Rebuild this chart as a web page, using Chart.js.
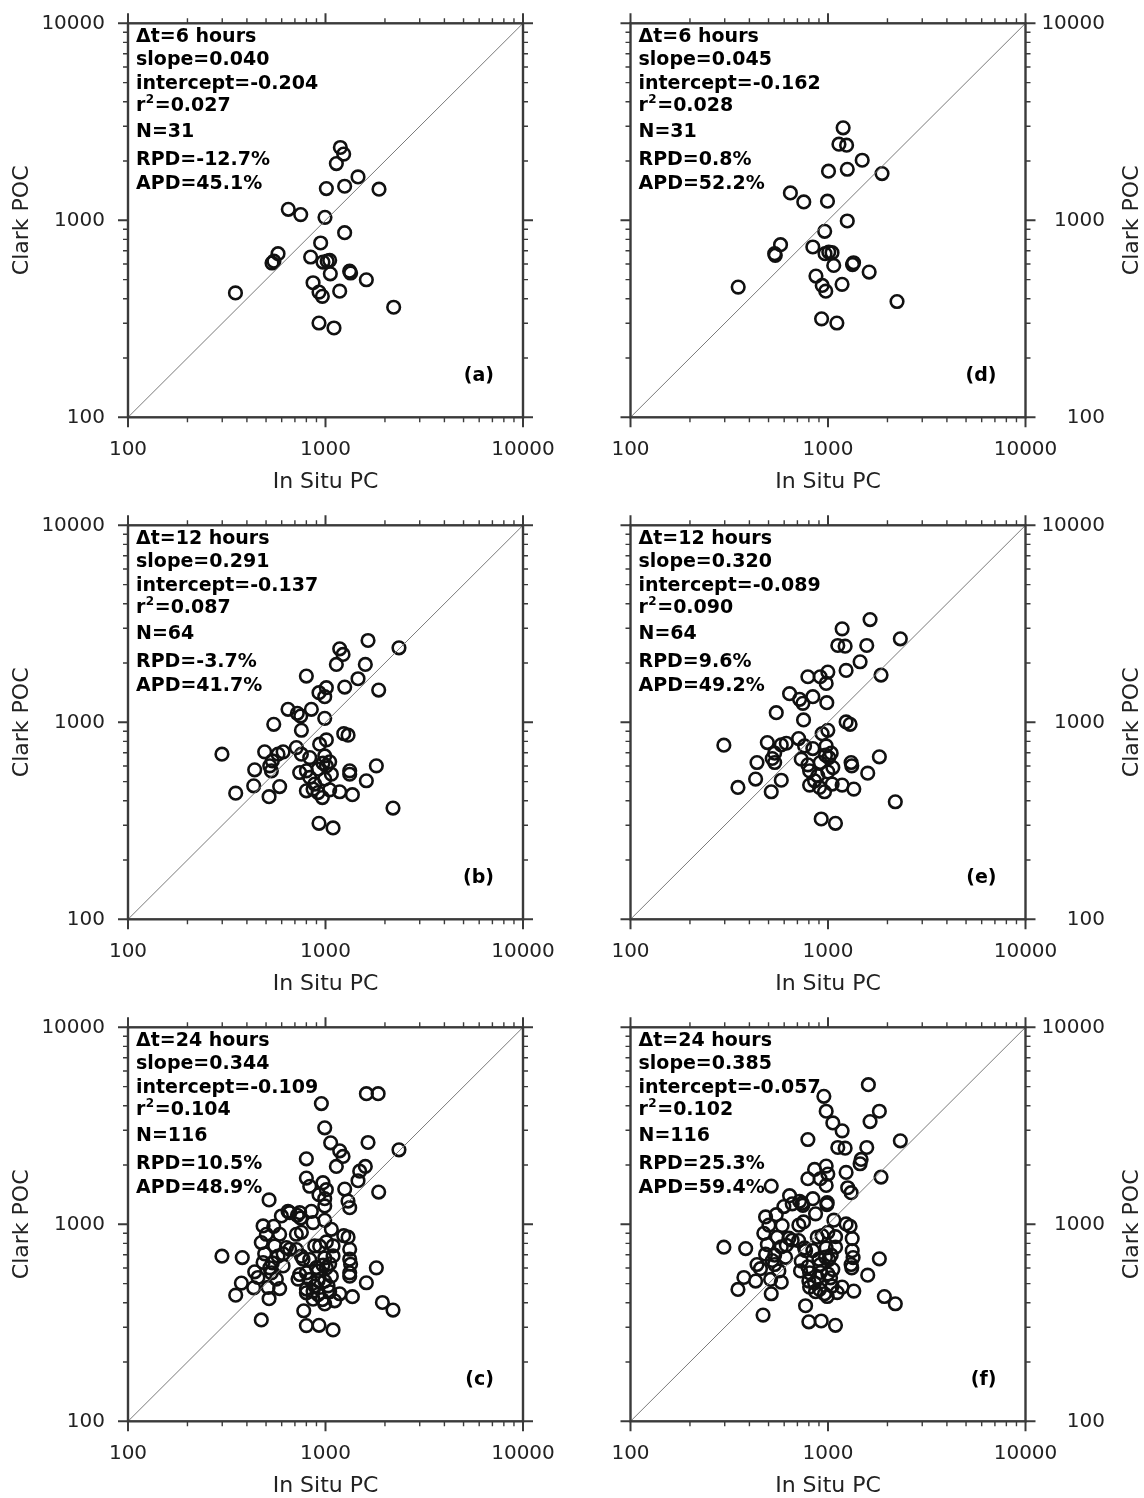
<!DOCTYPE html>
<html>
<head>
<meta charset="utf-8">
<title>Clark POC vs In Situ PC</title>
<script src="https://cdn.jsdelivr.net/npm/chart.js@4.4.1/dist/chart.umd.min.js"></script>
<style>
  html, body { margin: 0; padding: 0; background: #fff; }
  #page { position: relative; width: 1144px; height: 1498px; overflow: hidden; background: #fff; }
  #page canvas { position: absolute; }
</style>
</head>
<body>
<div id="page"></div>
<script>
// Data (values in the axis units)
// Left column (a-c), right column (d-f); c = b + cExtra, f = e + fExtra

const aInSitu = [1189,1236,1135,1461,1010,1250,1866,648,749,994,1250,945,575,536,841,971,1050,1058,1325,1340,1610,865,927,964,1180,350,2214,927,1104,1020,548];
const aClark  = [2342,2168,1941,1661,1449,1489,1438,1137,1069,1035,865,767,677,607,651,614,626,535,552,540,499,482,432,411,437,428,362,301,284,620,620];

const dInSitu = [1193,1136,1242,1490,1006,1252,1877,645,754,994,1252,962,575,541,838,966,1048,1069,1347,1331,1616,869,935,974,1178,351,2236,928,1109,1009,537];
const dClark  = [2948,2434,2406,2018,1775,1816,1727,1377,1239,1250,992,879,752,664,732,677,685,590,609,596,546,521,467,437,473,458,387,316,301,690,677];

const bInSitu = [1642,2355,1180,1227,1135,1591,800,1461,1251,1859,1010,927,991,646,848,720,749,991,547,755,1237,1301,1010,934,299,492,610,575,712,755,832,991,1050,971,538,522,532,438,1809,800,917,1071,1326,1326,832,991,1610,433,586,882,351,518,800,917,1050,1180,1368,964,2197,927,1092,865,740,1010];
const bClark  = [2602,2388,2360,2210,1966,1966,1717,1664,1510,1458,1498,1413,1349,1164,1164,1111,1076,1047,977,911,876,860,814,774,689,708,708,689,744,689,662,675,630,620,637,601,567,574,601,567,578,545,567,545,525,515,505,476,472,486,437,419,449,440,454,444,429,415,367,307,291,458,556,601];

const eInSitu = [1633,1179,2324,1121,1221,1571,1454,1235,1856,791,998,913,979,639,838,718,746,986,547,752,1235,1294,998,934,297,493,615,580,710,761,838,979,1038,971,537,522,537,437,1820,791,913,1058,1309,1319,807,998,1589,430,580,888,350,516,807,906,1050,1179,1351,960,2192,924,1091,855,732,1010];
const eClark  = [3323,2981,2653,2454,2435,2454,2029,1834,1737,1703,1799,1703,1576,1397,1349,1308,1248,1258,1119,1028,1004,977,911,876,765,789,783,768,827,759,736,759,697,681,697,655,625,625,668,608,625,589,625,601,567,560,552,515,508,535,467,444,480,467,486,480,458,444,395,323,307,505,650,662];

const cExtraInSitu = [1611,1847,953,991,1062,800,1490,518,1300,1326,832,971,991,379,473,800,776,1941,1340,1326,375,483,598,659,502,586,473,553,634,483,610,564,455,512,740,865,712,882,1092,770,899,1092,726,917,865,991,1113,800,1030,1071,659,1326];
const cExtraClark  = [4603,4603,4100,3088,2593,2150,1860,1330,1312,1215,1560,1626,1240,678,327,306,364,401,627,747,503,981,1102,1146,890,890,808,777,762,640,615,527,537,478,1146,1020,890,777,777,665,603,691,527,517,417,394,409,469,487,943,747,665];

const fExtraInSitu = [1601,1820,953,979,1058,791,1471,516,1258,1309,855,979,991,383,469,800,770,1929,1340,1326,375,483,598,659,502,586,473,553,634,483,610,564,455,512,740,865,712,882,1092,770,899,1092,726,917,865,991,1113,800,1030,1071,659,1326];
const fExtraClark  = [5114,3749,4465,3749,3272,2694,2134,1564,1533,1447,1899,1974,1287,753,346,320,386,430,678,846,537,1090,1230,1270,990,985,900,860,850,705,680,580,595,525,1280,1130,990,860,865,735,665,765,580,570,455,430,450,515,535,1050,830,735];

// Panel statistics, order a, b, c, d, e, f
const panelTags  = ['(a)', '(b)', '(c)', '(d)', '(e)', '(f)'];
const dtHours    = [6, 12, 24, 6, 12, 24];
const slopes     = ['0.040', '0.291', '0.344', '0.045', '0.320', '0.385'];
const intercepts = ['-0.204', '-0.137', '-0.109', '-0.162', '-0.089', '-0.057'];
const r2s        = ['0.027', '0.087', '0.104', '0.028', '0.090', '0.102'];
const counts     = [31, 64, 116, 31, 64, 116];
const rpds       = ['-12.7', '-3.7', '10.5', '0.8', '9.6', '25.3'];
const apds       = ['45.1', '41.7', '48.9', '52.2', '49.2', '59.4'];

// Axis ticks
const axisMin = 100, axisMax = 10000;
const majorTicks = [100, 1000, 10000];
const minorTicks = [200, 300, 400, 500, 600, 700, 800, 900, 2000, 3000, 4000, 5000, 6000, 7000, 8000, 9000];
const xTitle = 'In Situ PC';
const yTitle = 'Clark POC';

// Helpers
function zipPoints(xs, ys) {
    return xs.map((x, i) => ({ x: x, y: ys[i] }));
}

const panelSeries = [
    { x: aInSitu, y: aClark },
    { x: bInSitu, y: bClark },
    { x: bInSitu.concat(cExtraInSitu), y: bClark.concat(cExtraClark) },
    { x: dInSitu, y: dClark },
    { x: eInSitu, y: eClark },
    { x: eInSitu.concat(fExtraInSitu), y: eClark.concat(fExtraClark) },
];

const W = 572, H = 502;
const PLOT_TOP = 23.3, PLOT_H = 394, PLOT_W = 395;
const LEFT_AXIS_W = 128;          // left column: plot starts at x=128
const RIGHT_PLOT_LEFT = 58.5;     // right column: plot starts at 572+58.5
const RIGHT_AXIS_W = 79.5;        // right labels end at x=1105
const FONT = '"DejaVu Sans", "Liberation Sans", sans-serif';

// GMT style frame, outward ticks, axis titles and the stats block
const gmtFrame = {
    id: 'gmtFrame',
    afterDraw(chart, args, opts) {
        const { ctx, chartArea: ca, scales } = chart;
        const sx = scales.x, sy = scales.y;
        const i = opts.idx;
        ctx.save();

        ctx.strokeStyle = '#3a3a3a';
        const drawTicks = (vals, len, w) => {
            ctx.lineWidth = w;
            ctx.beginPath();
            vals.forEach(v => {
                const px = sx.getPixelForValue(v), py = sy.getPixelForValue(v);
                ctx.moveTo(px, ca.bottom); ctx.lineTo(px, ca.bottom + len);
                ctx.moveTo(px, ca.top); ctx.lineTo(px, ca.top - len);
                ctx.moveTo(ca.left, py); ctx.lineTo(ca.left - len, py);
                ctx.moveTo(ca.right, py); ctx.lineTo(ca.right + len, py);
            });
            ctx.stroke();
        };
        drawTicks(minorTicks, 5, 1.4);
        drawTicks(majorTicks, 10, 2);
        ctx.lineWidth = 2.4;
        ctx.strokeRect(ca.left, ca.top, ca.right - ca.left, ca.bottom - ca.top);

        // axis titles
        ctx.fillStyle = '#222';
        ctx.font = '22px ' + FONT;
        ctx.textAlign = 'center';
        ctx.textBaseline = 'middle';
        ctx.fillText(xTitle, (ca.left + ca.right) / 2, ca.bottom + 64.7);
        ctx.save();
        ctx.translate(opts.right ? 560 : 22.5, (ca.top + ca.bottom) / 2);
        ctx.rotate(-Math.PI / 2);
        ctx.fillText(yTitle, 0, 0);
        ctx.restore();

        // stats block
        ctx.fillStyle = '#000';
        ctx.textAlign = 'left';
        ctx.textBaseline = 'alphabetic';
        const bold = 'bold 19px ' + FONT;
        ctx.font = bold;
        const tx = ca.left + 8;
        const base = [19, 42, 66, 88, 114, 142, 166].map(b => ca.top + b);
        ctx.fillText('\u0394t=' + dtHours[i] + ' hours', tx, base[0]);
        ctx.fillText('slope=' + slopes[i], tx, base[1]);
        ctx.fillText('intercept=' + intercepts[i], tx, base[2]);
        const rw = ctx.measureText('r').width;
        ctx.fillText('r', tx, base[3]);
        ctx.font = 'bold 12px ' + FONT;
        ctx.fillText('2', tx + rw + 0.5, base[3] - 8);
        const sw = ctx.measureText('2').width;
        ctx.font = bold;
        ctx.fillText('=' + r2s[i], tx + rw + sw + 1, base[3]);
        ctx.fillText('N=' + counts[i], tx, base[4]);
        ctx.fillText('RPD=' + rpds[i] + '%', tx, base[5]);
        ctx.fillText('APD=' + apds[i] + '%', tx, base[6]);

        ctx.textAlign = 'right';
        ctx.font = 'bold 19px ' + FONT;
        ctx.fillText(panelTags[i], ca.right - 29, ca.bottom - 36.5);

        ctx.restore();
    }
};

const page = document.getElementById('page');

panelSeries.forEach((s, i) => {
    const col = i < 3 ? 0 : 1;
    const row = i % 3;
    const right = col === 1;

    const canvas = document.createElement('canvas');
    canvas.width = W;
    canvas.height = H;
    canvas.style.left = (col * W) + 'px';
    canvas.style.top = (row * H) + 'px';
    page.appendChild(canvas);

    const tickFont = { family: FONT, size: 20 };

    new Chart(canvas.getContext('2d'), {
        type: 'scatter',
        data: {
            datasets: [
                {
                    type: 'line',
                    data: [{ x: axisMin, y: axisMin }, { x: axisMax, y: axisMax }],
                    borderColor: '#7a7a7a',
                    borderWidth: 1,
                    pointRadius: 0,
                    fill: false
                },
                {
                    data: zipPoints(s.x, s.y),
                    pointRadius: 6.3,
                    pointBorderWidth: 2.6,
                    pointBorderColor: '#111',
                    pointBackgroundColor: 'rgba(0,0,0,0)'
                }
            ]
        },
        options: {
            responsive: false,
            animation: false,
            events: [],
            layout: {
                padding: right
                    ? { top: PLOT_TOP, left: RIGHT_PLOT_LEFT, right: W - RIGHT_PLOT_LEFT - PLOT_W - RIGHT_AXIS_W, bottom: 0 }
                    : { top: PLOT_TOP, left: 0, right: W - LEFT_AXIS_W - PLOT_W, bottom: 0 }
            },
            plugins: {
                legend: { display: false },
                tooltip: { enabled: false },
                gmtFrame: { idx: i, right: right }
            },
            scales: {
                x: {
                    type: 'logarithmic',
                    position: 'bottom',
                    min: axisMin,
                    max: axisMax,
                    grid: { display: false, drawTicks: false },
                    border: { display: false },
                    afterBuildTicks: sc => { sc.ticks = majorTicks.map(v => ({ value: v })); },
                    afterFit: sc => {
                        sc.height = H - PLOT_TOP - PLOT_H;
                        sc.paddingLeft = 0;
                        sc.paddingRight = 0;
                    },
                    ticks: {
                        callback: v => String(v),
                        font: tickFont,
                        color: '#222',
                        padding: 20,
                        maxRotation: 0,
                        autoSkip: false
                    }
                },
                y: {
                    type: 'logarithmic',
                    position: right ? 'right' : 'left',
                    min: axisMin,
                    max: axisMax,
                    grid: { display: false, drawTicks: false },
                    border: { display: false },
                    afterBuildTicks: sc => { sc.ticks = majorTicks.map(v => ({ value: v })); },
                    afterFit: sc => {
                        sc.width = right ? RIGHT_AXIS_W : LEFT_AXIS_W;
                        sc.paddingTop = 0;
                        sc.paddingBottom = 0;
                    },
                    ticks: {
                        callback: v => String(v),
                        font: tickFont,
                        color: '#222',
                        padding: right ? 16 : 23,
                        crossAlign: right ? 'far' : 'near',
                        autoSkip: false
                    }
                }
            }
        },
        plugins: [gmtFrame]
    });
});
</script>
</body>
</html>
